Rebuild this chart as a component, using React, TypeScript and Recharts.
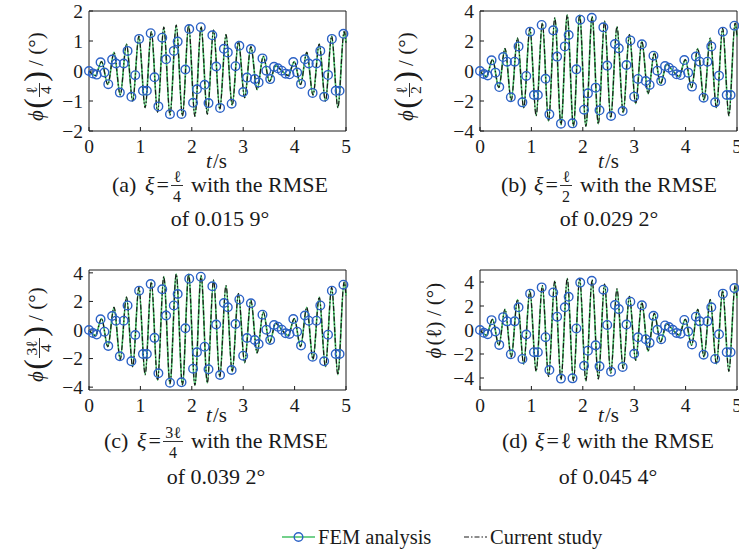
import React from 'react';
import { LineChart, Line, XAxis, YAxis, ReferenceArea } from 'recharts';

const FONT = '"Liberation Serif", "DejaVu Serif", "Times New Roman", serif';
const GREEN = '#45c065';
const BLUE = '#2c62c6';
const INK = '#1a1a1a';

// FEM sampling instants (s)
const sampleTimes = [
  0, 0.075, 0.15, 0.225, 0.3, 0.375, 0.45, 0.525, 0.6, 0.675,
  0.75, 0.825, 0.9, 0.975, 1.05, 1.125, 1.2, 1.275, 1.35, 1.425,
  1.5, 1.575, 1.65, 1.725, 1.8, 1.875, 1.95, 2.025, 2.1, 2.175,
  2.25, 2.325, 2.4, 2.475, 2.55, 2.625, 2.7, 2.775, 2.85, 2.925,
  3, 3.075, 3.15, 3.225, 3.3, 3.375, 3.45, 3.525, 3.6, 3.675,
  3.75, 3.825, 3.9, 3.975, 4.05, 4.125, 4.2, 4.275, 4.35, 4.425,
  4.5, 4.575, 4.65, 4.725, 4.8, 4.875, 4.95,
];

// FEM markers
const femA = [
  0, -0.08, -0.12, 0.29, -0.05, -0.44, 0.38, 0.25, -0.72, 0.25,
  0.67, -0.86, -0.14, 1.07, -0.66, -0.66, 1.26, -0.21, -1.18, 1.11,
  0.39, -1.44, 0.67, 0.98, -1.43, 0.05, 1.4, -1.06, -0.61, 1.46,
  -0.46, -1.07, 1.19, 0.15, -1.23, 0.74, 0.62, -1.09, 0.16, 0.84,
  -0.7, -0.22, 0.73, -0.27, -0.38, 0.42, 0.01, -0.27, 0.14, 0.09,
  0.01, -0.09, -0.11, 0.3, -0.05, -0.43, 0.39, 0.25, -0.73, 0.25,
  0.67, -0.86, -0.13, 1.07, -0.66, -0.66, 1.24,
];
const femB = [
  0, -0.2, -0.3, 0.71, -0.11, -1.07, 0.93, 0.62, -1.75, 0.62,
  1.64, -2.09, -0.33, 2.62, -1.6, -1.6, 3.07, -0.52, -2.89, 2.71,
  0.96, -3.51, 1.64, 2.4, -3.49, 0.11, 3.42, -2.58, -1.49, 3.55,
  -1.11, -2.62, 2.91, 0.36, -3.0, 1.8, 1.51, -2.67, 0.4, 2.04,
  -1.71, -0.53, 1.78, -0.67, -0.93, 1.02, 0.02, -0.67, 0.33, 0.22,
  0.02, -0.22, -0.27, 0.73, -0.11, -1.04, 0.96, 0.62, -1.78, 0.62,
  1.64, -2.09, -0.31, 2.62, -1.6, -1.6, 3.02,
];
const femC = [
  0, -0.21, -0.32, 0.75, -0.12, -1.12, 0.98, 0.65, -1.84, 0.65,
  1.72, -2.19, -0.35, 2.75, -1.68, -1.68, 3.22, -0.55, -3.03, 2.85,
  1.01, -3.69, 1.72, 2.52, -3.66, 0.12, 3.59, -2.71, -1.56, 3.73,
  -1.17, -2.75, 3.06, 0.38, -3.15, 1.89, 1.59, -2.8, 0.42, 2.14,
  -1.8, -0.56, 1.87, -0.7, -0.98, 1.07, 0.02, -0.7, 0.35, 0.23,
  0.02, -0.23, -0.28, 0.77, -0.12, -1.09, 1.01, 0.65, -1.87, 0.65,
  1.72, -2.19, -0.33, 2.75, -1.68, -1.68, 3.17,
];
const femD = [
  0, -0.23, -0.35, 0.82, -0.13, -1.24, 1.07, 0.72, -2.02, 0.72,
  1.89, -2.41, -0.38, 3.03, -1.85, -1.85, 3.55, -0.6, -3.34, 3.13,
  1.11, -4.05, 1.89, 2.77, -4.03, 0.13, 3.95, -2.98, -1.72, 4.1,
  -1.28, -3.03, 3.36, 0.42, -3.47, 2.08, 1.74, -3.08, 0.46, 2.36,
  -1.98, -0.61, 2.06, -0.77, -1.07, 1.18, 0.02, -0.77, 0.38, 0.25,
  0.02, -0.25, -0.31, 0.84, -0.13, -1.2, 1.11, 0.72, -2.06, 0.72,
  1.89, -2.41, -0.36, 3.03, -1.85, -1.85, 3.49,
];

// Current-study response: turning points of the curve (s)
const curveTimes = [
  0, 0.124, 0.245, 0.366, 0.487, 0.608, 0.729, 0.85, 0.971, 1.092,
  1.213, 1.334, 1.455, 1.576, 1.697, 1.818, 1.939, 2.06, 2.181, 2.302,
  2.423, 2.544, 2.665, 2.786, 2.907, 3.028, 3.149, 3.27, 3.391, 3.512,
  3.633, 3.754, 3.874, 3.995, 4.116, 4.237, 4.358, 4.479, 4.6, 4.721,
  4.842, 4.963, 5,
];
const curveA = [
  0, -0.15, 0.31, -0.45, 0.62, -0.8, 0.9, -1.0, 1.16, -1.22,
  1.31, -1.37, 1.46, -1.47, 1.53, -1.5, 1.53, -1.51, 1.48, -1.44,
  1.36, -1.28, 1.21, -1.14, 0.99, -0.89, 0.81, -0.62, 0.49, -0.35,
  0.18, 0, -0.15, 0.31, -0.45, 0.62, -0.8, 0.9, -1.0, 1.16,
  -1.22, 1.31, 0.94,
];
const curveB = [
  0, -0.36, 0.76, -1.1, 1.5, -1.95, 2.2, -2.45, 2.84, -2.98,
  3.2, -3.35, 3.55, -3.58, 3.72, -3.66, 3.72, -3.68, 3.62, -3.52,
  3.32, -3.12, 2.96, -2.78, 2.42, -2.18, 1.98, -1.52, 1.2, -0.85,
  0.45, 0, -0.36, 0.76, -1.1, 1.5, -1.95, 2.2, -2.45, 2.84,
  -2.98, 3.2, 2.3,
];
const curveC = [
  0, -0.38, 0.8, -1.16, 1.58, -2.05, 2.31, -2.57, 2.98, -3.13,
  3.36, -3.52, 3.73, -3.76, 3.91, -3.84, 3.91, -3.86, 3.8, -3.7,
  3.49, -3.28, 3.11, -2.92, 2.54, -2.29, 2.08, -1.6, 1.26, -0.89,
  0.47, 0, -0.38, 0.8, -1.16, 1.58, -2.05, 2.31, -2.57, 2.98,
  -3.13, 3.36, 2.42,
];
const curveD = [
  0, -0.42, 0.88, -1.27, 1.73, -2.25, 2.54, -2.83, 3.28, -3.44,
  3.7, -3.87, 4.1, -4.13, 4.3, -4.23, 4.3, -4.25, 4.18, -4.07,
  3.83, -3.6, 3.42, -3.21, 2.8, -2.52, 2.29, -1.76, 1.39, -0.98,
  0.52, 0, -0.42, 0.88, -1.27, 1.73, -2.25, 2.54, -2.83, 3.28,
  -3.44, 3.7, 2.66,
];

const xTicks = [0, 1, 2, 3, 4, 5];
const yTicksA = [-2, -1, 0, 1, 2];
const yTicksB = [-4, -2, 0, 2, 4];
const yTicksC = [-4, -2, 0, 2, 4];
const yTicksD = [-4, -2, 0, 2, 4];

const captions = [
  { tag: '(a)', num: 'ℓ', den: '4', rmse: 'of 0.015 9°' },
  { tag: '(b)', num: 'ℓ', den: '2', rmse: 'of 0.029 2°' },
  { tag: '(c)', num: '3ℓ', den: '4', rmse: 'of 0.039 2°' },
  { tag: '(d)', num: 'ℓ', den: '', rmse: 'of 0.045 4°' },
];

const fmt = (v: number) => (v < 0 ? '\u2212' + Math.abs(v) : String(v));

type PanelProps = {
  left: number;
  top: number;
  curve: number[];
  markers: number[];
  yDomain: [number, number];
  yTicks: number[];
};

function Panel({ left, top, curve, markers, yDomain, yTicks }: PanelProps) {
  const pw = 257;
  const ph = 120;
  const curveData = curveTimes.map((t, i) => ({ t, v: curve[i] }));
  const markerData = sampleTimes.map((t, i) => ({ t, v: markers[i] }));
  const tickStyle = { fontSize: 19.5, fontFamily: FONT, fill: INK };
  return (
    <div style={{ position: 'absolute', left: left - 70, top: top - 10 }}>
      <LineChart width={pw + 85} height={ph + 40} margin={{ top: 10, right: 15, bottom: 2, left: 10 }}>
        <XAxis
          dataKey="t"
          type="number"
          domain={[0, 5]}
          ticks={xTicks}
          interval={0}
          height={28}
          tickSize={-4}
          tickMargin={12}
          axisLine={false}
          tickLine={{ stroke: INK }}
          tick={tickStyle}
        />
        <YAxis
          type="number"
          domain={yDomain}
          ticks={yTicks}
          interval={0}
          width={60}
          tickSize={-4}
          tickMargin={10}
          axisLine={false}
          tickLine={{ stroke: INK }}
          tick={tickStyle}
          tickFormatter={fmt}
        />
        <ReferenceArea x1={0} x2={5} y1={yDomain[0]} y2={yDomain[1]} fill="none" fillOpacity={0} stroke={INK} strokeWidth={1} />
        <Line data={curveData} dataKey="v" type="monotone" stroke={GREEN} strokeWidth={1.7} dot={false} activeDot={false} isAnimationActive={false} />
        <Line data={curveData} dataKey="v" type="monotone" stroke={INK} strokeWidth={1.2} strokeDasharray="5 2 1.5 2" dot={false} activeDot={false} isAnimationActive={false} />
        <Line data={markerData} dataKey="v" stroke="none" dot={{ r: 4.3, stroke: BLUE, strokeWidth: 1.4, fill: 'none' }} activeDot={false} isAnimationActive={false} />
      </LineChart>
    </div>
  );
}

function YLabel({ cx, cy, num, den }: { cx: number; cy: number; num: string; den: string }) {
  if (den) {
    const fw = num.length > 1 ? 22 : 16;
    const total = 74 + fw;
    const s = -total / 2;
    return (
      <g transform={`translate(${cx},${cy}) rotate(-90)`} fontFamily={FONT} fill={INK}>
        <text x={s + 6.5} y={6} fontSize={21} fontStyle="italic" textAnchor="middle">ϕ</text>
        <text x={s + 18.5} y={9} fontSize={32} textAnchor="middle">(</text>
        <text x={s + 24 + fw / 2} y={0} fontSize={15.5} textAnchor="middle">{num}</text>
        <line x1={s + 25} x2={s + 23 + fw} y1={2.5} y2={2.5} stroke={INK} strokeWidth={0.9} />
        <text x={s + 24 + fw / 2} y={14} fontSize={15.5} textAnchor="middle">{den}</text>
        <text x={s + 29.5 + fw} y={9} fontSize={32} textAnchor="middle">)</text>
        <text x={s + 43 + fw} y={6} fontSize={21} textAnchor="middle">/</text>
        <text x={s + 62.5 + fw} y={6} fontSize={21} textAnchor="middle">(°)</text>
      </g>
    );
  }
  const s = -38.5;
  return (
    <g transform={`translate(${cx},${cy}) rotate(-90)`} fontFamily={FONT} fill={INK} fontSize={21}>
      <text x={s + 6.5} y={6} fontStyle="italic" textAnchor="middle">ϕ</text>
      <text x={s + 17.5} y={6} textAnchor="middle">(</text>
      <text x={s + 26} y={6} textAnchor="middle">{num}</text>
      <text x={s + 34.5} y={6} textAnchor="middle">)</text>
      <text x={s + 46.5} y={6} textAnchor="middle">/</text>
      <text x={s + 65.5} y={6} textAnchor="middle">(°)</text>
    </g>
  );
}

function Caption({ cx, y1, y2, c }: { cx: number; y1: number; y2: number; c: typeof captions[number] }) {
  const fs = 22;
  const hasFrac = !!c.den;
  const fw = c.num.length > 1 ? 20 : 12;
  const tailW = 137;
  const fracStart = 59;
  const tailStart = hasFrac ? fracStart + fw + 8 : fracStart + 16;
  const total = tailStart + tailW;
  const x0 = cx - total / 2;
  return (
    <g fontFamily={FONT} fill={INK} fontSize={fs}>
      <text x={x0} y={y1}>{c.tag}</text>
      <text x={x0 + 33} y={y1} fontStyle="italic">ξ</text>
      <text x={x0 + 44.5} y={y1}>=</text>
      {hasFrac ? (
        <g>
          <text x={x0 + fracStart + fw / 2} y={y1 - 10} fontSize={16} textAnchor="middle">{c.num}</text>
          <line x1={x0 + fracStart} x2={x0 + fracStart + fw} y1={y1 - 6.5} y2={y1 - 6.5} stroke={INK} strokeWidth={0.9} />
          <text x={x0 + fracStart + fw / 2} y={y1 + 9.5} fontSize={16} textAnchor="middle">{c.den}</text>
        </g>
      ) : (
        <text x={x0 + fracStart + 5} y={y1} textAnchor="middle">{c.num}</text>
      )}
      <text x={x0 + tailStart} y={y1}>with the RMSE</text>
      <text x={cx} y={y2} textAnchor="middle">{c.rmse}</text>
    </g>
  );
}

function AxisTitle({ cx, y }: { cx: number; y: number }) {
  const x0 = cx - 10;
  return (
    <g fontFamily={FONT} fontSize={21} fill={INK}>
      <text x={x0} y={y} fontStyle="italic">t</text>
      <text x={x0 + 7} y={y}>/s</text>
    </g>
  );
}

export default function App() {
  return (
    <div style={{ position: 'absolute', left: 0, top: 0, width: 739, height: 556, background: '#fff', overflow: 'hidden' }}>
      <Panel left={88.5} top={11} curve={curveA} markers={femA} yDomain={[-2, 2]} yTicks={yTicksA} />
      <Panel left={480} top={11} curve={curveB} markers={femB} yDomain={[-4, 4]} yTicks={yTicksB} />
      <Panel left={88.5} top={270} curve={curveC} markers={femC} yDomain={[-4.2, 4.2]} yTicks={yTicksC} />
      <Panel left={480} top={270} curve={curveD} markers={femD} yDomain={[-5, 5]} yTicks={yTicksD} />
      <svg width={739} height={556} style={{ position: 'absolute', left: 0, top: 0, pointerEvents: 'none' }}>
        <YLabel cx={37} cy={77} num="ℓ" den="4" />
        <YLabel cx={407} cy={77} num="ℓ" den="2" />
        <YLabel cx={37} cy={335} num="3ℓ" den="4" />
        <YLabel cx={435} cy={321} num="ℓ" den="" />
        <AxisTitle cx={216} y={167.5} />
        <AxisTitle cx={608} y={167.5} />
        <AxisTitle cx={216} y={421.5} />
        <AxisTitle cx={608} y={421.5} />
        <Caption cx={220} y1={192} y2={226} c={captions[0]} />
        <Caption cx={609} y1={192} y2={226} c={captions[1]} />
        <Caption cx={216} y1={448} y2={484} c={captions[2]} />
        <Caption cx={608} y1={448} y2={484} c={captions[3]} />
        <g fontFamily={FONT} fontSize={20.5} fill={INK}>
          <line x1={282} x2={315} y1={537} y2={537} stroke={GREEN} strokeWidth={1.7} />
          <circle cx={298.5} cy={537} r={4.3} stroke={BLUE} strokeWidth={1.4} fill="none" />
          <text x={318} y={543.5}>FEM analysis</text>
          <line x1={464} x2={487} y1={537} y2={537} stroke={INK} strokeWidth={1.2} strokeDasharray="5 2 1.5 2" />
          <text x={490} y={543.5}>Current study</text>
        </g>
      </svg>
    </div>
  );
}
